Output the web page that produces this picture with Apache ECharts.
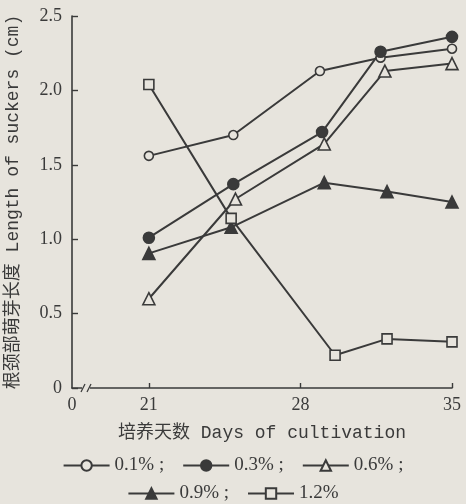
<!DOCTYPE html>
<html>
<head>
<meta charset="utf-8">
<script src="https://cdn.jsdelivr.net/npm/echarts@6/dist/echarts.min.js"></script>
<style>
  html, body { margin: 0; padding: 0; background: #e7e4dd; }
  #main { width: 466px; height: 504px; }
</style>
</head>
<body>
<div id="main"></div>
<script>
const names = ['0.1%', '0.3%', '0.6%', '0.9%', '1.2%'];
const days01 = [21, 24.9, 28.9, 31.7, 35];
const days03 = [21, 24.9, 29.0, 31.7, 35];
const days06 = [21, 25.0, 29.1, 31.9, 35];
const days09 = [21, 24.8, 29.1, 32.0, 35];
const days12 = [21, 24.8, 29.6, 32.0, 35];
const len01 = [1.56, 1.70, 2.13, 2.22, 2.28];
const len03 = [1.01, 1.37, 1.72, 2.26, 2.36];
const len06 = [0.60, 1.27, 1.64, 2.13, 2.18];
const len09 = [0.905, 1.08, 1.38, 1.32, 1.25];
const len12 = [2.04, 1.14, 0.22, 0.33, 0.31];
const xTicks = [21, 28, 35];
const yTicks = [0, 0.5, 1.0, 1.5, 2.0, 2.5];

const bg = '#e7e4dd';
const ink = '#3a3a3a';
const xMin = 17.45;

function pairs(xs, ys) {
    return xs.map(function (x, i) { return [x, ys[i]]; });
}

function mkSeries(name, xs, ys, symbol, size, filled) {
    return {
        name: name,
        type: 'line',
        data: pairs(xs, ys),
        symbol: symbol,
        symbolSize: size,
        showAllSymbol: true,
        lineStyle: { color: ink, width: 2 },
        itemStyle: {
            color: filled ? ink : bg,
            borderColor: ink,
            borderWidth: 1.6
        },
        emphasis: { disabled: true },
        animation: false
    };
}

const serif = "'Liberation Serif', serif";
const mono = "'Liberation Mono', 'Noto Sans CJK SC', monospace";

const option = {
    backgroundColor: bg,
    grid: { left: 72, right: 14, top: 16, bottom: 116, outerBoundsMode: 'none', containLabel: false },
    legend: [
        {
            data: names.slice(0, 3),
            left: 'center',
            top: 451,
            itemWidth: 46,
            itemHeight: 13,
            itemGap: 18,
            selectedMode: false,
            formatter: function (n) { return n + ' ;'; },
            textStyle: { color: ink, fontFamily: serif, fontSize: 19 }
        },
        {
            data: names.slice(3),
            left: 'center',
            top: 479,
            itemWidth: 46,
            itemHeight: 13,
            itemGap: 18,
            selectedMode: false,
            formatter: function (n) { return n === '0.9%' ? n + ' ;' : n; },
            textStyle: { color: ink, fontFamily: serif, fontSize: 19 }
        }
    ],
    xAxis: {
        type: 'value',
        min: xMin,
        max: 35,
        name: '培养天数 Days of cultivation',
        nameLocation: 'middle',
        nameGap: 36,
        nameTextStyle: { color: ink, fontFamily: mono, fontSize: 18 },
        axisLine: { show: true, lineStyle: { color: ink, width: 1.6 } },
        axisTick: {
            show: true, inside: true, length: 5, customValues: xTicks,
            lineStyle: { color: ink, width: 1.4 }
        },
        axisLabel: {
            customValues: [xMin].concat(xTicks),
            color: ink, fontFamily: serif, fontSize: 18, margin: 8,
            formatter: function (v) { return v < 20 ? '0' : String(v); }
        },
        splitLine: { show: false }
    },
    yAxis: {
        type: 'value',
        min: 0,
        max: 2.5,
        interval: 0.5,
        name: '根颈部萌芽长度 Length of suckers (cm)',
        nameLocation: 'middle',
        nameGap: 50,
        nameTextStyle: { color: ink, fontFamily: mono, fontSize: 18 },
        axisLine: { show: true, lineStyle: { color: ink, width: 1.6 } },
        axisTick: {
            show: true, inside: true, length: 6, customValues: yTicks,
            lineStyle: { color: ink, width: 1.4 }
        },
        axisLabel: {
            color: ink, fontFamily: serif, fontSize: 18, margin: 10,
            formatter: function (v) { return v === 0 ? '0' : v.toFixed(1); }
        },
        splitLine: { show: false }
    },
    series: [
        mkSeries(names[0], days01, len01, 'circle', 9, false),
        mkSeries(names[1], days03, len03, 'circle', 11, true),
        mkSeries(names[2], days06, len06, 'triangle', 12, false),
        mkSeries(names[3], days09, len09, 'triangle', 12, true),
        mkSeries(names[4], days12, len12, 'rect', 10, false)
    ]
};

const chart = echarts.init(document.getElementById('main'));
chart.setOption(option);

// axis break mark "//" on the x axis, placed through the axis scale
const p0 = chart.convertToPixel({ gridIndex: 0 }, [xMin, 0]);
const bx = p0[0] + 14;
const by = p0[1];
chart.setOption({
    graphic: [
        { type: 'rect', shape: { x: bx - 4, y: by - 3, width: 8, height: 6 },
          style: { fill: bg }, z: 100 },
        { type: 'line', shape: { x1: bx - 5, y1: by + 4, x2: bx - 1, y2: by - 4 },
          style: { stroke: ink, lineWidth: 1.3 }, z: 101 },
        { type: 'line', shape: { x1: bx + 1, y1: by + 4, x2: bx + 5, y2: by - 4 },
          style: { stroke: ink, lineWidth: 1.3 }, z: 101 }
    ]
});
</script>
</body>
</html>
